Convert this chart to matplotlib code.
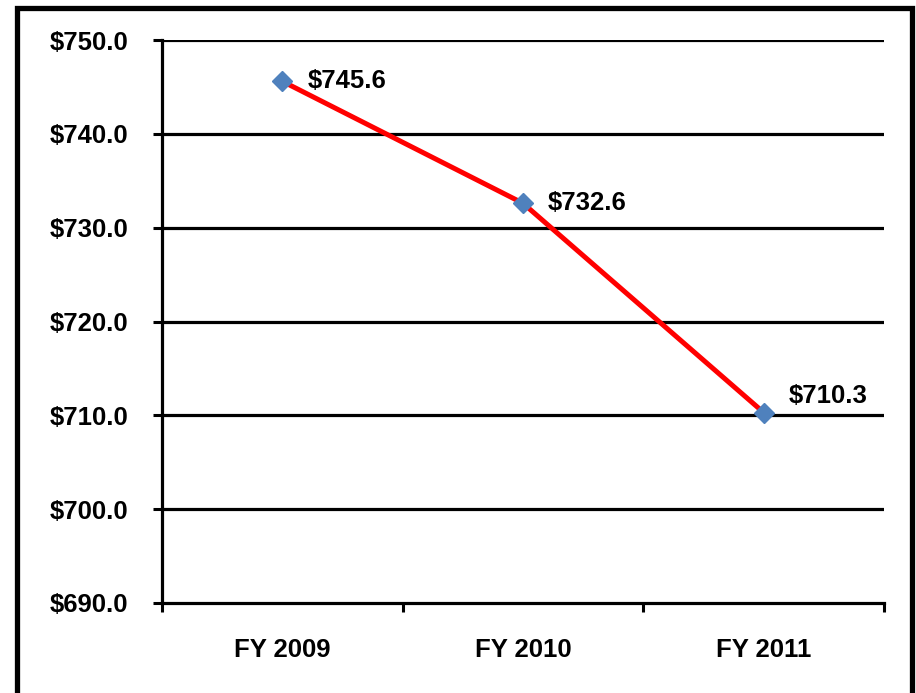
import matplotlib
matplotlib.use("Agg")
import matplotlib.pyplot as plt
from matplotlib.patches import Rectangle
import numpy as np

years = ["FY 2009", "FY 2010", "FY 2011"]
amounts = [745.6, 732.6, 710.3]
y_ticks = [690, 700, 710, 720, 730, 740, 750]

# label offsets (points) - last one sits above the gridline like the original
label_offsets = [(18, 0), (18, 0), (18, 12)]

plt.rcParams['font.family'] = ['Liberation Sans', 'DejaVu Sans']
plt.rcParams['font.weight'] = 'bold'

W, H = 916, 693
fig = plt.figure(figsize=(W / 100, H / 100), dpi=100)
ax = fig.add_axes([162 / W, 1 - 603 / H, (884 - 162) / W, (603 - 40) / H])

# frame round the whole chart (bottom edge runs off the picture)
fig.patches.append(Rectangle((17 / W, -20 / H), (912 - 17) / W, (693 - 8 + 20) / H,
                             transform=fig.transFigure, fill=False,
                             edgecolor="black", linewidth=3.8, zorder=0))

x = np.arange(len(years))
ax.set_xlim(-0.5, len(years) - 0.5)
ax.set_ylim(y_ticks[0], y_ticks[-1])

for t in y_ticks[1:]:
    ax.axhline(t, color="black", linewidth=2.3, zorder=1)

ax.plot(x, amounts, color="#FF0000", linewidth=3.6, zorder=3)
ax.plot(x, amounts, linestyle="none", marker="D", markersize=10.5,
        markerfacecolor="#4F81BD", markeredgecolor="#4F81BD", zorder=4)

for xi, v, off in zip(x, amounts, label_offsets):
    ax.annotate(f"${v:.1f}", (xi, v), xytext=off, textcoords="offset points",
                ha="left", va="center", fontsize=18.5, fontweight="bold", zorder=5)

ax.set_yticks(y_ticks)
ax.set_yticklabels([f"${t:.1f}" for t in y_ticks])
ax.set_xticks(x)
ax.set_xticklabels(years)
ax.set_xticks(np.arange(-0.5, len(years)), minor=True)

ax.tick_params(axis="y", length=6.5, width=2.2, direction="out", pad=18, labelsize=18.5)
ax.tick_params(axis="x", which="major", length=0, pad=25, labelsize=18.5)
ax.tick_params(axis="x", which="minor", length=6.5, width=2.2, direction="out")

for s in ["top", "right"]:
    ax.spines[s].set_visible(False)
for s in ["left", "bottom"]:
    ax.spines[s].set_linewidth(2.3)

plt.savefig("out.png", dpi=100)
